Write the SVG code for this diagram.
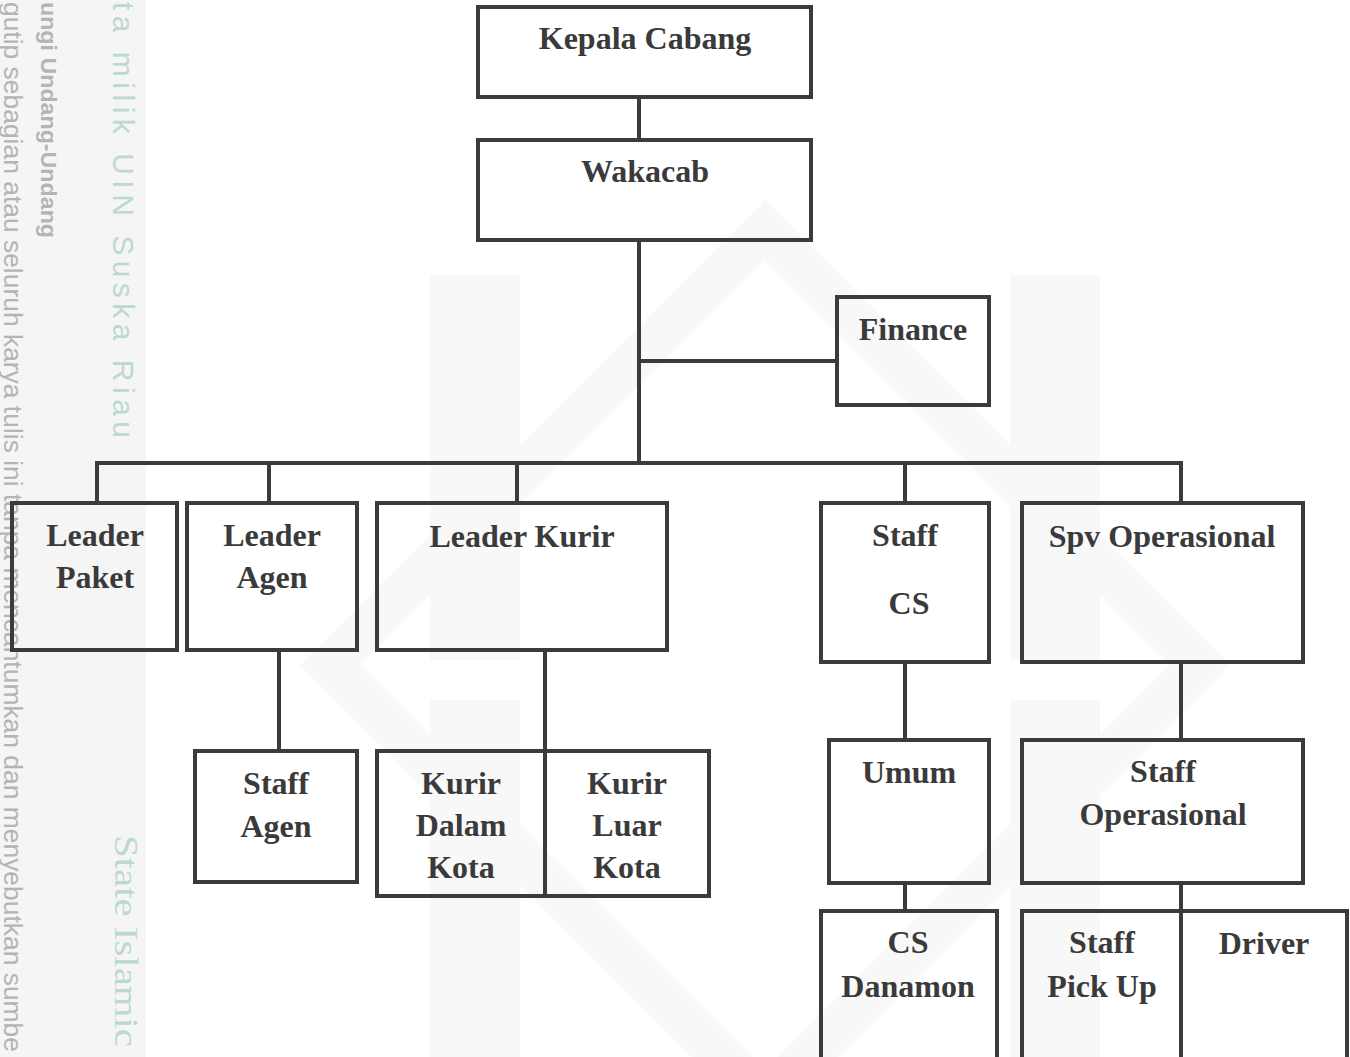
<svg xmlns="http://www.w3.org/2000/svg" width="1350" height="1057" viewBox="0 0 1350 1057">
<style>
.box{fill:none;stroke:#3b3b3b;stroke-width:4}
.ln{fill:none;stroke:#3b3b3b;stroke-width:4}
.t{font-family:"Liberation Serif","Times New Roman",serif;font-weight:bold;font-size:32px;fill:#3a3a3a;text-anchor:middle}
.wm{fill:#f8f8f8}
.wg{font-family:"Liberation Sans",Arial,sans-serif;fill:#bcd9cd}
.ws{font-family:"Liberation Serif","Times New Roman",serif;fill:#bcd9cd}
.wk{font-family:"Liberation Sans",Arial,sans-serif;fill:#b4b4b4}
</style>
<rect x="0" y="0" width="1350" height="1057" fill="#ffffff"/>
<g id="watermark">
<rect x="0" y="0" width="146" height="1057" fill="#f5f5f5"/>
<path class="wm" d="M765 200 L1230 665 L765 1130 L300 665 Z M765 260 L360 665 L765 1070 L1170 665 Z" fill-rule="evenodd"/>
<path class="wm" d="M430 275 H520 V660 H430 Z M1010 275 H1100 V660 H1010 Z M430 700 H520 V1057 H430 Z M1010 700 H1100 V1057 H1010 Z"/>
<text class="wg" transform="translate(113,2) rotate(90)" font-size="30" textLength="436" lengthAdjust="spacing">ta milik UIN Suska Riau</text>
<text class="wk" transform="translate(41,2) rotate(90)" font-size="22" font-weight="bold" textLength="236" lengthAdjust="spacingAndGlyphs">ungi Undang-Undang</text>
<text class="wk" transform="translate(4,2) rotate(90)" font-size="25" textLength="1050" lengthAdjust="spacingAndGlyphs">gutip sebagian atau seluruh karya tulis ini tanpa mencantumkan dan menyebutkan sumbe</text>
<text class="ws" transform="translate(115,835) rotate(90)" font-size="33" textLength="212" lengthAdjust="spacingAndGlyphs">State Islamic</text>
</g>
<g id="connectors">
<path class="ln" d="M639 97 V140"/>
<path class="ln" d="M639 240 V463"/>
<path class="ln" d="M639 361 H837"/>
<path class="ln" d="M95 463 H1183"/>
<path class="ln" d="M97 463 V503 M269 463 V503 M517 463 V503 M905 463 V503 M1181 463 V503"/>
<path class="ln" d="M279 650 V751"/>
<path class="ln" d="M545 650 V751"/>
<path class="ln" d="M905 662 V740"/>
<path class="ln" d="M905 883 V911"/>
<path class="ln" d="M1181 662 V740"/>
<path class="ln" d="M1181 883 V911"/>
</g>
<g id="kepala-cabang"><rect class="box" x="478" y="7" width="333" height="90"/><text class="t" x="645" y="49">Kepala Cabang</text></g>
<g id="wakacab"><rect class="box" x="478" y="140" width="333" height="100"/><text class="t" x="645" y="182">Wakacab</text></g>
<g id="finance"><rect class="box" x="837" y="297" width="152" height="108"/><text class="t" x="913" y="340">Finance</text></g>
<g id="leader-paket"><rect class="box" x="12" y="503" width="165" height="147"/><text class="t" x="95" y="546">Leader</text><text class="t" x="95" y="588">Paket</text></g>
<g id="leader-agen"><rect class="box" x="187" y="503" width="170" height="147"/><text class="t" x="272" y="546">Leader</text><text class="t" x="272" y="588">Agen</text></g>
<g id="leader-kurir"><rect class="box" x="377" y="503" width="290" height="147"/><text class="t" x="522" y="547">Leader Kurir</text></g>
<g id="staff-cs"><rect class="box" x="821" y="503" width="168" height="159"/><text class="t" x="905" y="546">Staff</text><text class="t" x="909" y="614">CS</text></g>
<g id="spv-operasional"><rect class="box" x="1022" y="503" width="281" height="159"/><text class="t" x="1162" y="547">Spv Operasional</text></g>
<g id="staff-agen"><rect class="box" x="195" y="751" width="162" height="131"/><text class="t" x="276" y="794">Staff</text><text class="t" x="276" y="837">Agen</text></g>
<g id="kurir-dalam-kota"><rect class="box" x="377" y="751" width="168" height="145"/><text class="t" x="461" y="794">Kurir</text><text class="t" x="461" y="836">Dalam</text><text class="t" x="461" y="878">Kota</text></g>
<g id="kurir-luar-kota"><rect class="box" x="545" y="751" width="164" height="145"/><text class="t" x="627" y="794">Kurir</text><text class="t" x="627" y="836">Luar</text><text class="t" x="627" y="878">Kota</text></g>
<g id="umum"><rect class="box" x="829" y="740" width="160" height="143"/><text class="t" x="909" y="783">Umum</text></g>
<g id="staff-operasional"><rect class="box" x="1022" y="740" width="281" height="143"/><text class="t" x="1163" y="782">Staff</text><text class="t" x="1163" y="825">Operasional</text></g>
<g id="cs-danamon"><rect class="box" x="821" y="911" width="176" height="160"/><text class="t" x="908" y="953">CS</text><text class="t" x="908" y="997">Danamon</text></g>
<g id="staff-pick-up"><rect class="box" x="1022" y="911" width="159" height="160"/><text class="t" x="1102" y="953">Staff</text><text class="t" x="1102" y="997">Pick Up</text></g>
<g id="driver"><rect class="box" x="1181" y="911" width="166" height="160"/><text class="t" x="1264" y="954">Driver</text></g>
</svg>
